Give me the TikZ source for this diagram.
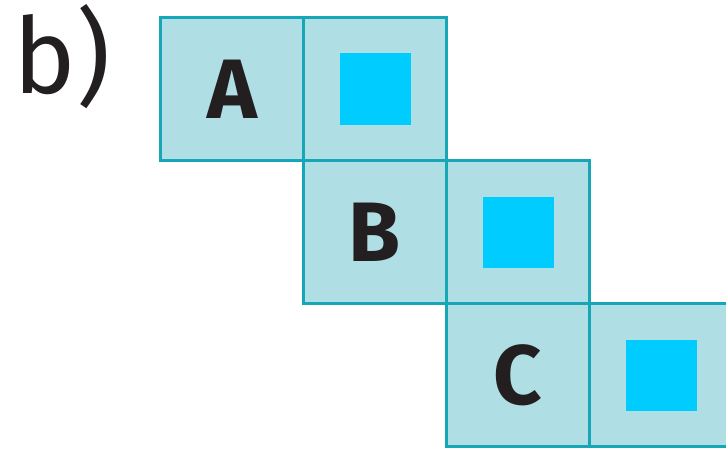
\documentclass[tikz,border=0pt]{standalone}
\usepackage{fontspec}
\setmainfont{Fira Sans}
\usepackage{xcolor}
\usepackage{tikz}
\usetikzlibrary{positioning}

\definecolor{cellfill}{HTML}{AFDEE5}
\definecolor{celledge}{HTML}{16A6B6}
\definecolor{dotblue}{HTML}{00CCFF}
\definecolor{inkdark}{HTML}{231F20}

\tikzset{
    cell/.style={draw=celledge, fill=cellfill, line width=3.2pt, outer sep=0pt, minimum size=4.29cm,
        inner sep=0pt, font=\bfseries\fontsize{72}{72}\selectfont, text=inkdark},
    marker/.style={fill=dotblue, minimum size=2.13cm, inner sep=0pt}
}

\begin{document}
\begin{tikzpicture}[x=0.03cm, y=-0.03cm]
    \useasboundingbox (0,0) rectangle (726,449);
    \node[font=\fontsize{90}{90}\selectfont, text=inkdark] (tag) at (62,57) {b)};
    % diagonal row of cells
    \node[cell] (cA) at (232,89) {A};
    \node[cell, right=0pt of cA] (mA) {};
    \node[cell, below=0pt of mA] (cB) {B};
    \node[cell, right=0pt of cB] (mB) {};
    \node[cell, below=0pt of mB] (cC) {C};
    \node[cell, right=0pt of cC] (mC) {};
    \foreach \m in {mA,mB,mC} \node[marker] at (\m) {};
\end{tikzpicture}
\end{document}
